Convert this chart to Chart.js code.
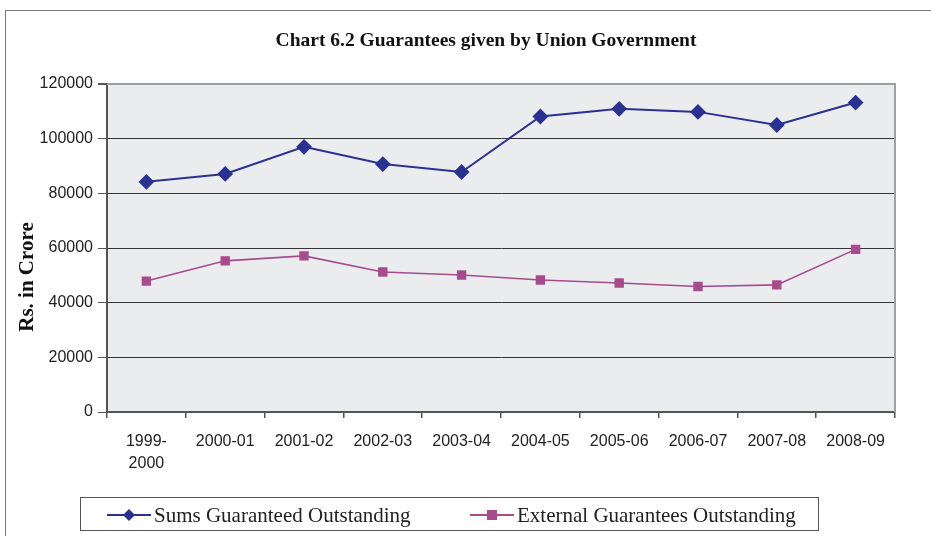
<!DOCTYPE html>
<html>
<head>
<meta charset="utf-8">
<script src="https://cdn.jsdelivr.net/npm/chart.js@4.4.0/dist/chart.umd.min.js"></script>
<style>
  html, body { margin: 0; padding: 0; background: #fff; }
  #wrap { position: relative; width: 931px; height: 536px; }
  #frame { position: absolute; left: 5px; top: 10px; width: 940px; height: 540px;
           border-top: 1.5px solid #777; border-left: 1.5px solid #777; }
  canvas { position: absolute; left: 0; top: 0; }
</style>
</head>
<body>
<div id="wrap">
  <div id="frame"></div>
  <canvas id="myChart" width="931" height="536"></canvas>
</div>
<script>
var years = [["1999-", "2000"], "2000-01", "2001-02", "2002-03", "2003-04", "2004-05", "2005-06", "2006-07", "2007-08", "2008-09"];
var sumsGuaranteed = [84200, 87100, 97000, 90700, 87800, 108100, 110900, 109800, 105000, 113200];
var externalGuarantees = [47900, 55300, 57100, 51200, 50100, 48300, 47200, 45900, 46500, 59500];
var yTicks = [0, 20000, 40000, 60000, 80000, 100000, 120000];

var titleText = "Chart 6.2 Guarantees given by Union Government";
var yTitle = "Rs. in Crore";

var blue = "#2b3190";
var pink = "#a64c8c";

var decor = {
	id: "decor",
	beforeDraw: function(chart) {
		var c = chart.ctx, a = chart.chartArea;
		c.save();
		c.fillStyle = "#ebecee";
		c.fillRect(a.left, a.top, a.right - a.left, a.bottom - a.top);
		c.restore();
	},
	afterDraw: function(chart) {
		var c = chart.ctx, a = chart.chartArea;
		c.save();
		// plot border top / right
		c.strokeStyle = "#a0a0a0";
		c.lineWidth = 2;
		c.beginPath();
		c.moveTo(a.left, a.top);
		c.lineTo(a.right, a.top);
		c.lineTo(a.right, a.bottom);
		c.stroke();

		// title
		c.fillStyle = "#111";
		c.font = "bold 19.5px 'Liberation Serif'";
		c.textAlign = "center";
		c.textBaseline = "middle";
		c.fillText(titleText, 486, 41);

		// y title
		c.save();
		c.translate(28, 277);
		c.rotate(-Math.PI / 2);
		c.font = "bold 21px 'Liberation Serif'";
		c.fillText(yTitle, 0, 0);
		c.restore();

		// legend
		c.strokeStyle = "#555";
		c.lineWidth = 1;
		c.strokeRect(80.5, 497.5, 738, 33);
		var items = [
			{x: 107, ds: chart.data.datasets[0]},
			{x: 470, ds: chart.data.datasets[1]}
		];
		c.font = "21px 'Liberation Serif'";
		c.textAlign = "left";
		items.forEach(function(it) {
			var y = 515;
			c.strokeStyle = it.ds.borderColor;
			c.lineWidth = 2;
			c.beginPath();
			c.moveTo(it.x, y);
			c.lineTo(it.x + 44, y);
			c.stroke();
			c.fillStyle = it.ds.borderColor;
			var mx = it.x + 22;
			if (it.ds.pointStyle === "rectRot") {
				c.beginPath();
				c.moveTo(mx, y - 6);
				c.lineTo(mx + 6, y);
				c.lineTo(mx, y + 6);
				c.lineTo(mx - 6, y);
				c.closePath();
				c.fill();
			} else {
				c.fillRect(mx - 5, y - 5, 10, 10);
			}
			c.fillStyle = "#222";
			c.fillText(it.ds.label, it.x + 47, y + 1);
		});
		c.restore();
	}
};

var ctx = document.getElementById("myChart");

var data = {
	labels: years,
	datasets: [
		{
			label: "Sums Guaranteed Outstanding",
			data: sumsGuaranteed,
			borderColor: blue,
			backgroundColor: blue,
			borderWidth: 2,
			pointStyle: "rectRot",
			pointRadius: 6.5,
			pointHoverRadius: 6.5,
			lineTension: 0,
			fill: false
		},
		{
			label: "External Guarantees Outstanding",
			data: externalGuarantees,
			borderColor: pink,
			backgroundColor: pink,
			borderWidth: 1.6,
			pointStyle: "rect",
			pointRadius: 5.5,
			pointHoverRadius: 5.5,
			lineTension: 0,
			fill: false
		}
	]
};

var myChart = new Chart(ctx, {
	type: "line",
	data: data,
	plugins: [decor],
	options: {
		responsive: false,
		animation: false,
		layout: { padding: { left: 0, right: 36, top: 84, bottom: 0 } },
		plugins: {
			legend: { display: false },
			title: { display: false },
			tooltip: { enabled: false }
		},
		scales: {
			x: {
				offset: true,
				afterFit: function(s) { s.height = 124; },
				grid: { offset: true, drawOnChartArea: false, drawTicks: true, tickLength: 6, color: "#555", lineWidth: 1.5 },
				border: { color: "#555", width: 2 },
				ticks: {
					color: "#222",
					padding: 12,
					maxRotation: 0,
					autoSkip: false,
					font: { family: "'Liberation Sans'", size: 16, lineHeight: 1.4 }
				}
			},
			y: {
				min: 0,
				max: 120000,
				afterFit: function(s) { s.width = 107; },
				afterBuildTicks: function(s) { s.ticks = yTicks.map(function(v) { return {value: v}; }); },
				grid: {
					color: function(c) { return c.tick && c.tick.value === 120000 ? "#a0a0a0" : "#333"; },
					lineWidth: function(c) { return c.tick && c.tick.value === 120000 ? 2 : 1; },
					tickColor: "#555",
					tickLength: 9
				},
				border: { color: "#555", width: 2 },
				ticks: {
					color: "#222",
					padding: 5,
					font: { family: "'Liberation Sans'", size: 16 },
					callback: function(v) { return String(v); }
				}
			}
		}
	}
});
</script>
</body>
</html>
